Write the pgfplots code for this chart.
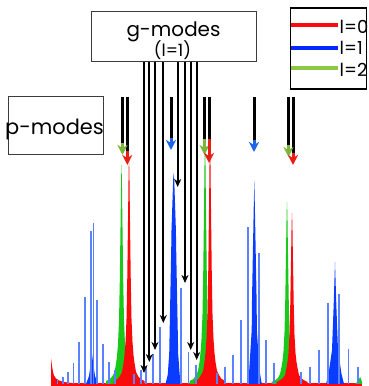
\documentclass[border=0pt]{standalone}
\usepackage{pgfplots}
\pgfplotsset{compat=1.18}
\usepackage{fontspec}
\setmainfont{Poppins}
\usetikzlibrary{arrows.meta}
\definecolor{specred}{RGB}{250,10,10}
\definecolor{specgreen}{RGB}{25,200,25}
\definecolor{specblue}{RGB}{10,60,255}
\definecolor{thinblue}{RGB}{90,130,255}
\definecolor{leggreen}{RGB}{140,200,70}
\definecolor{legblue}{RGB}{0,40,255}
\definecolor{headgreen}{RGB}{125,180,60}
\definecolor{headblue}{RGB}{30,100,230}
\definecolor{headred}{RGB}{235,30,20}
\definecolor{boxgray}{RGB}{60,60,60}
\begin{document}
\begin{tikzpicture}
\begin{axis}[width=368bp, height=386bp, scale only axis,
  xmin=0, xmax=368, ymin=-2, ymax=384, axis lines=none, clip=false]
\addplot[draw=none] coordinates {(0,-2) (368,384)};
% p-mode black shafts
\addplot[black, line width=3bp] coordinates {(122.5,287) (122.5,237)};
\addplot[black, line width=3bp] coordinates {(127.3,287) (127.3,229)};
\addplot[black, line width=3bp] coordinates {(171,287) (171,242)};
\addplot[black, line width=3bp] coordinates {(204.5,287) (204.5,244)};
\addplot[black, line width=3bp] coordinates {(209,287) (209,244)};
\addplot[black, line width=3bp] coordinates {(254,287) (254,240)};
\addplot[black, line width=3bp] coordinates {(288.5,287) (288.5,235)};
\addplot[black, line width=3bp] coordinates {(293,287) (293,227)};
% red baseline band
\addplot[specred, line width=3bp] coordinates {(51,-0.5) (362,-0.5)};
% green peaks (l=2)
\addplot[fill=specgreen, draw=none] coordinates {(106,0)(106,3)(110,5)(112.5,8)(114.5,12)(116,20)(117,28)(118,40)(119,63)(119.8,104)(120.2,135)(120.7,171)(121.1,205)(121.5,219)(121.9,205)(122.3,171)(122.8,135)(123.2,104)(124,63)(125,40)(126,28)(127,20)(128.5,12)(130.5,8)(133,5)(137,3)(137,0)} \closedcycle;
\addplot[fill=specgreen, draw=none] coordinates {(189.5,0)(189.5,3)(193.5,5)(196,9)(198,13)(199.5,22)(200.5,31)(201.5,45)(202.5,70)(203.3,116)(203.7,150)(204.2,191)(204.6,228)(205,244)(205.4,228)(205.8,191)(206.3,150)(206.7,116)(207.5,70)(208.5,45)(209.5,31)(210.5,22)(212,13)(214,9)(216.5,5)(220.5,3)(220.5,0)} \closedcycle;
\addplot[fill=specgreen, draw=none] coordinates {(271.5,0)(271.5,2)(275.5,4)(278,6)(280,10)(281.5,17)(282.5,23)(283.5,33)(284.5,52)(285.3,86)(285.7,112)(286.2,143)(286.6,170)(287,182)(287.4,170)(287.8,143)(288.3,112)(288.7,86)(289.5,52)(290.5,33)(291.5,23)(292.5,17)(294,10)(296,6)(298.5,4)(302.5,2)(302.5,0)} \closedcycle;
\addplot[fill=specgreen, draw=none] coordinates {(354,0)(356,1)(358,3)(360,7)(361,5)(362,2)(362,0)} \closedcycle;
% red peaks (l=0)
\addplot[fill=specred, draw=none] coordinates {(51,0)(51,26)(52,18)(53,12)(54,8.5)(56,5.5)(59,3.5)(64,2)(72,1)(80,0)} \closedcycle;
\addplot[fill=specred, draw=none] coordinates {(113.5,0)(113.5,3)(117.5,5)(120,8)(122,12)(123.5,21)(124.5,29)(125.5,42)(126.5,65)(127.3,108)(127.7,140)(128.2,178)(128.6,212)(129,227)(129.4,212)(129.8,178)(130.3,140)(130.7,108)(131.5,65)(132.5,42)(133.5,29)(134.5,21)(136,12)(138,8)(140.5,5)(144.5,3)(144.5,0)} \closedcycle;
\addplot[fill=specred, draw=none] coordinates {(194.5,0)(194.5,3)(198.5,5)(201,9)(203,13)(204.5,22)(205.5,31)(206.5,45)(207.5,70)(208.3,116)(208.7,150)(209.2,191)(209.6,228)(210,244)(210.4,228)(210.8,191)(211.3,150)(211.7,116)(212.5,70)(213.5,45)(214.5,31)(215.5,22)(217,13)(219,9)(221.5,5)(225.5,3)(225.5,0)} \closedcycle;
\addplot[fill=specred, draw=none] coordinates {(276.5,0)(276.5,2)(280.5,4)(283,6)(285,9)(286.5,16)(287.5,22)(288.5,31)(289.5,49)(290.3,81)(290.7,105)(291.2,134)(291.6,160)(292,171)(292.4,160)(292.8,134)(293.3,105)(293.7,81)(294.5,49)(295.5,31)(296.5,22)(297.5,16)(299,9)(301,6)(303.5,4)(307.5,2)(307.5,0)} \closedcycle;
% blue filled peaks (l=1)
\addplot[fill=specblue, draw=none] coordinates {(86,0)(89,8)(91,22)(92,30)(93,22)(95,8)(98,0)} \closedcycle;
\addplot[fill=specblue, draw=none] coordinates {(165.5,0)(167.7,9)(169.2,30)(171.2,134)(171.5,154)(173.2,205)(173.7,211)(174.2,205)(175.9,154)(176.2,134)(178.2,30)(179.7,9)(181.9,0)} \closedcycle;
\addplot[fill=specblue, draw=none] coordinates {(246.8,0)(249.2,14)(251.7,54)(252,84)(253.6,170)(254.3,204)(255,170)(256.6,84)(256.9,54)(259.4,14)(261.8,0)} \closedcycle;
\addplot[fill=specblue, draw=none] coordinates {(326,0)(328.5,10)(332,34)(333.7,80)(335,122)(336.3,80)(338,34)(341.5,10)(344,0)} \closedcycle;
% blue thin lines
\addplot[ycomb, draw=thinblue, line width=1.6bp, mark=none] coordinates {
(57.3,5)(62.7,7)(68,12)(73.3,21)(79,42)(84.7,87)(90.7,153)(93.3,161)(97,84)(103,40)(108.7,22)(114.7,14)
(134,10)(140.7,14)(146,17)(152.7,30)(160,57)(180.7,96)(188.3,32)(195.7,19)
(217,11)(225,17)(232.7,29)(240.7,64)(248,157)(259,131)(266,44)(274,21)
(300.7,12)(309.7,17)(318.7,34)(327.7,81)(339,90)(348.3,35)(357.7,17)};
% p-mode coloured heads
\addplot[headgreen, line width=3bp, -{Stealth[width=10bp,length=10bp,inset=3bp]}] coordinates {(122.5,241) (122.5,229)};
\addplot[headred, line width=3bp, -{Stealth[width=10bp,length=10bp,inset=3bp]}] coordinates {(127.3,233) (127.3,219)};
\addplot[headblue, line width=3bp, -{Stealth[width=10bp,length=10bp,inset=3bp]}] coordinates {(171,246) (171,234)};
\addplot[headgreen, line width=3bp, -{Stealth[width=10bp,length=10bp,inset=3bp]}] coordinates {(204.5,245) (204.5,229)};
\addplot[headred, line width=3bp, -{Stealth[width=10bp,length=10bp,inset=3bp]}] coordinates {(209,245) (209,221)};
\addplot[headblue, line width=3bp, -{Stealth[width=10bp,length=10bp,inset=3bp]}] coordinates {(254,244) (254,232)};
\addplot[headgreen, line width=3bp, -{Stealth[width=10bp,length=10bp,inset=3bp]}] coordinates {(288.5,239) (288.5,227)};
\addplot[headred, line width=3bp, -{Stealth[width=10bp,length=10bp,inset=3bp]}] coordinates {(293,231) (293,219)};
% g-mode arrows
\addplot[black, line width=1.8bp, -{Stealth[width=7bp,length=8bp,inset=2.5bp]}] coordinates {(144,322) (144,11)};
\addplot[black, line width=1.8bp, -{Stealth[width=7bp,length=8bp,inset=2.5bp]}] coordinates {(149.3,322) (149.3,22)};
\addplot[black, line width=1.8bp, -{Stealth[width=7bp,length=8bp,inset=2.5bp]}] coordinates {(155,322) (155,34)};
\addplot[black, line width=1.8bp, -{Stealth[width=7bp,length=8bp,inset=2.5bp]}] coordinates {(163.3,322) (163.3,61)};
\addplot[black, line width=1.8bp, -{Stealth[width=7bp,length=8bp,inset=2.5bp]}] coordinates {(177.7,322) (177.7,197)};
\addplot[black, line width=1.8bp, -{Stealth[width=7bp,length=8bp,inset=2.5bp]}] coordinates {(185,322) (185,101)};
\addplot[black, line width=1.8bp, -{Stealth[width=7bp,length=8bp,inset=2.5bp]}] coordinates {(190.7,322) (190.7,34)};
\addplot[black, line width=1.8bp, -{Stealth[width=7bp,length=8bp,inset=2.5bp]}] coordinates {(196.7,322) (196.7,24)};
% boxes
\draw[boxgray, line width=1bp] (91,372) rectangle (256,322);
\node[anchor=base, inner sep=0pt, font=\fontsize{20}{24}\selectfont] at (173.5,347) {g-modes};
\node[anchor=base, inner sep=0pt, font=\fontsize{17}{19}\selectfont] at (172.5,327) {(l=1)};
\draw[boxgray, line width=1bp] (8,287) rectangle (103,229);
\node[anchor=base, inner sep=0pt, font=\fontsize{21}{24}\selectfont] at (54.5,249) {p-modes};
% legend
\draw[black, line width=1.2bp] (290.7,376) rectangle (366.7,295);
\addplot[specred, line width=4bp] coordinates {(291,359) (338,359)};
\addplot[legblue, line width=4bp] coordinates {(291,336.3) (338,336.3)};
\addplot[leggreen, line width=4bp] coordinates {(291,315.7) (338,315.7)};
\node[anchor=base west, inner sep=0pt, font=\fontsize{18}{20}\selectfont] at (339.5,350.7) {l=0};
\node[anchor=base west, inner sep=0pt, font=\fontsize{18}{20}\selectfont] at (339.5,329) {l=1};
\node[anchor=base west, inner sep=0pt, font=\fontsize{18}{20}\selectfont] at (339.5,307.3) {l=2};
\end{axis}
\end{tikzpicture}
\end{document}
